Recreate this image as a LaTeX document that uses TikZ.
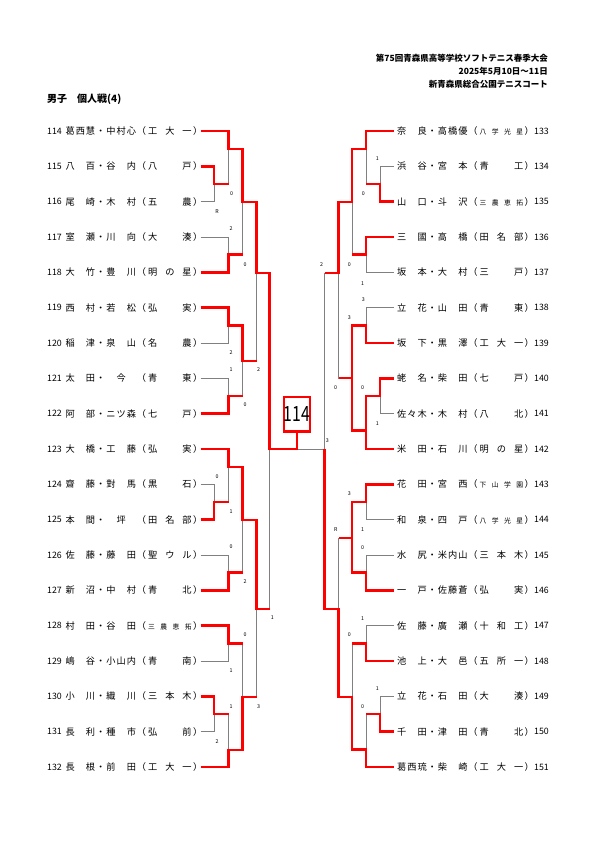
\documentclass[tikz,border=0pt]{standalone}
\usepackage{fontspec}
\setmainfont{Noto Sans CJK JP}
\newcommand\tinysch{\fontsize{6.8}{7}\selectfont}
\newcommand\slots[7]{\makebox[10.2pt]{#1}\makebox[10.2pt]{#2}\makebox[10.2pt]{#3}\makebox[10.2pt]{#4}\makebox[10.2pt]{#5}\makebox[10.2pt]{#6}\makebox[10.2pt]{#7}}
\newcommand\fullname[2]{\expandafter\slots#1\makebox[10.2pt]{（}\hspace{1.5pt}\makebox[43.5pt][s]{#2}\hspace{1pt}\makebox[10.2pt]{）}}

\begin{document}
\begin{tikzpicture}[x=1pt, y=-1pt,
  thinline/.style={draw=gray, line width=0.6pt},
  winline/.style={draw=red, line width=2.6pt},
  score/.style={font=\fontsize{5.3}{5.3}\selectfont, inner sep=0pt},
  num/.style={anchor=west, inner sep=0pt, font=\fontsize{8.8}{10}\selectfont},
  entry/.style={anchor=west, inner sep=0pt, font=\fontsize{9.2}{10}\selectfont}]
  \path[fill=white, use as bounding box] (0,0) rectangle (595,842);

  % heading
  \node[anchor=north east, align=right, inner sep=0pt, font=\bfseries\fontsize{8.5}{13}\selectfont] (meet) at (548,53.5) {第75回青森県高等学校ソフトテニス春季大会\\2025年5月10日～11日\\新青森県総合公園テニスコート};
  \node[anchor=west, inner sep=0pt, font=\bfseries\fontsize{10}{12}\selectfont] (title) at (47,99.5) {男子　個人戦(4)};

  % players, left half
  \foreach \n/\nm/\sc [count=\i from 0] in {
    114/葛西慧・中村心/工\hfill 大\hfill 一,
    115/八　百・谷　内/八\hfill 戸,
    116/尾　崎・木　村/五\hfill 農,
    117/室　瀬・川　向/大\hfill 湊,
    118/大　竹・豊　川/明\hfill の\hfill 星,
    119/西　村・若　松/弘\hfill 実,
    120/稲　津・泉　山/名\hfill 農,
    121/太　田・　今　/青\hfill 東,
    122/阿　部・ニツ森/七\hfill 戸,
    123/大　橋・工　藤/弘\hfill 実,
    124/齋　藤・對　馬/黒\hfill 石,
    125/本　間・　坪　/田\hfill 名\hfill 部,
    126/佐　藤・藤　田/聖\hfill ウ\hfill ル,
    127/新　沼・中　村/青\hfill 北,
    128/村　田・谷　田/\tinysch 三\hfill 農\hfill 恵\hfill 拓,
    129/嶋　谷・小山内/青\hfill 南,
    130/小　川・織　川/三\hfill 本\hfill 木,
    131/長　利・種　市/弘\hfill 前,
    132/長　根・前　田/工\hfill 大\hfill 一} {
    \coordinate (p\n) at (200.5,131+35.33*\i);
    \node[num] (n\n) at (47,131+35.33*\i) {\n};
    \node[entry] (t\n) at (64.9,131+35.33*\i) {\fullname{\nm}{\sc}};
  }

  % players, right half
  \foreach \n/\nm/\sc [count=\i from 0] in {
    133/奈　良・高橋優/\tinysch 八\hfill 学\hfill 光\hfill 星,
    134/浜　谷・宮　本/青\hfill 工,
    135/山　口・斗　沢/\tinysch 三\hfill 農\hfill 恵\hfill 拓,
    136/三　國・高　橋/田\hfill 名\hfill 部,
    137/坂　本・大　村/三\hfill 戸,
    138/立　花・山　田/青\hfill 東,
    139/坂　下・黒　澤/工\hfill 大\hfill 一,
    140/蛯　名・柴　田/七\hfill 戸,
    141/佐々木・木　村/八\hfill 北,
    142/米　田・石　川/明\hfill の\hfill 星,
    143/花　田・宮　西/\tinysch 下\hfill 山\hfill 学\hfill 園,
    144/和　泉・四　戸/\tinysch 八\hfill 学\hfill 光\hfill 星,
    145/水　尻・米内山/三\hfill 本\hfill 木,
    146/一　戸・佐藤蒼/弘\hfill 実,
    147/佐　藤・廣　瀬/十\hfill 和\hfill 工,
    148/池　上・大　邑/五\hfill 所\hfill 一,
    149/立　花・石　田/大\hfill 湊,
    150/千　田・津　田/青\hfill 北,
    151/葛西琉・柴　崎/工\hfill 大\hfill 一} {
    \coordinate (p\n) at (393.5,131+35.33*\i);
    \node[entry] (t\n) at (396.4,131+35.33*\i) {\fullname{\nm}{\sc}};
    \node[num] (n\n) at (534,131+35.33*\i) {\n};
  }

  % match points
  \coordinate (lA) at (214,184);    \coordinate (lB) at (228.5,149);
  \coordinate (lC) at (228.5,254.7);\coordinate (lD) at (242.5,202);
  \coordinate (lE) at (228.5,325.3);\coordinate (lF) at (228.5,396);
  \coordinate (lG) at (242.5,361);  \coordinate (lH) at (256.5,273);
  \coordinate (lI) at (214,502);    \coordinate (lJ) at (228.5,467);
  \coordinate (lK) at (228.5,572.6);\coordinate (lL) at (242.5,520);
  \coordinate (lM) at (228.5,643.3);\coordinate (lN) at (214,714);
  \coordinate (lO) at (228.5,750);  \coordinate (lP) at (242.5,697);
  \coordinate (lQ) at (256.5,609);  \coordinate (lR) at (269.5,449);
  \coordinate (rA) at (380,184);    \coordinate (rB) at (366,149);
  \coordinate (rC) at (366,254.7);  \coordinate (rD) at (352,202);
  \coordinate (rE) at (366,325.3);  \coordinate (rF) at (380,396);
  \coordinate (rG) at (366,430.5);  \coordinate (rH) at (352,378);
  \coordinate (rI) at (338.5,273);  \coordinate (rJ) at (366,502);
  \coordinate (rK) at (366,572.6);  \coordinate (rL) at (352,538);
  \coordinate (rM) at (366,643.3);  \coordinate (rN) at (380,714);
  \coordinate (rO) at (366,749.5);  \coordinate (rP) at (352,697);
  \coordinate (rQ) at (338.5,609);  \coordinate (rR) at (324.5,449);
  \coordinate (fin) at (297,449);

  % bracket
  \foreach \a/\b in {p115/lA, p116/lA, p114/lB, lA/lB, p117/lC, p118/lC, lB/lD, lC/lD,
    p119/lE, p120/lE, p121/lF, p122/lF, lE/lG, lF/lG, lD/lH, lG/lH,
    p124/lI, p125/lI, p123/lJ, lI/lJ, p126/lK, p127/lK, lJ/lL, lK/lL,
    p128/lM, p129/lM, p130/lN, p131/lN, lN/lO, p132/lO, lM/lP, lO/lP,
    lL/lQ, lP/lQ, lH/lR, lQ/lR, lR/fin,
    p134/rA, p135/rA, p133/rB, rA/rB, p136/rC, p137/rC, rB/rD, rC/rD,
    p138/rE, p139/rE, p140/rF, p141/rF, rF/rG, p142/rG, rE/rH, rG/rH,
    rD/rI, rH/rI, p143/rJ, p144/rJ, p145/rK, p146/rK, rJ/rL, rK/rL,
    p147/rM, p148/rM, p149/rN, p150/rN, rN/rO, p151/rO, rM/rP, rO/rP,
    rL/rQ, rP/rQ, rI/rR, rQ/rR, rR/fin}
    \draw[thinline] (\a) -| (\b);

  % winners
  \draw[winline] (p115) -| (lA) -- (lA -| lB);
  \draw[winline] (p118) -| (lC) -- (lC -| lD);
  \draw[winline] (p119) -| (lE) -| (lG) -- (lG -| lH);
  \draw[winline] (p122) -| (lF) -- (lF -| lG);
  \draw[winline] (p123) -| (lJ) -| (lL) -| (lQ) -- (lQ -| lR);
  \draw[winline] (p125) -| (lI) -- (lI -| lJ);
  \draw[winline] (p127) -| (lK) -- (lK -| lL);
  \draw[winline] (p128) -| (lM) -- (lM -| lP);
  \draw[winline] (p130) -| (lN) -- (lN -| lO);
  \draw[winline] (p132) -| (lO) -| (lP) -- (lP -| lQ);
  \draw[winline] (p133) -| (rB) -| (rD) -| (rI) -- (rI -| rR);
  \draw[winline] (p135) -| (rA) -- (rA -| rB);
  \draw[winline] (p136) -| (rC) -- (rC -| rD);
  \draw[winline] (p139) -| (rE) -| (rH);
  \draw[winline] (p140) -| (rF) -| (rG);
  \draw[winline] (p142) -| (rG) -| (rH) -- (rH -| rI);
  \draw[winline] (p143) -| (rJ) -| (rL);
  \draw[winline] (p146) -| (rK) -| (rL) -- (rL -| rQ);
  \draw[winline] (p148) -| (rM) -- (rM -| rP);
  \draw[winline] (p150) -| (rN) -- (rN -| rO);
  \draw[winline] (p151) -| (rO) -| (rP) -| (rQ) -| (rR);

  \node[draw=red, line width=2.6pt, fill=white, minimum width=26pt, minimum height=34.5pt, inner sep=0pt] (cup) at (297,414.2) {\fontsize{21}{21}\selectfont\scalebox{0.75}[1]{114}};
  \draw[winline] (p114) -| (lB) -| (lD) -| (lH) -| (lR) -- (fin) -- (cup.south);

  % scores
  \foreach \s/\x/\y/\t in {lA/217/212/R, lB/231.5/194/0, lC/231/229/2, lD/245/265/0,
    lE/231/352.7/2, lF/231/370/1, lG/245/405/0, lH/258.5/370/2,
    lI/217/476.7/0, lJ/231/512/1, lK/231/547/0, lL/245/582/2,
    lM/231/670.7/1, lN/217/741.7/2, lO/231/706.7/1, lP/245/635/0,
    lQ/258.5/706.7/3, lR/272.3/617.7/1,
    rA/377.3/158.3/1, rB/363.3/194/0, rC/362.7/283.3/1, rD/349.3/265/0,
    rE/363.3/300/3, rF/377.3/423.3/1, rG/362.7/387.3/0, rH/349.3/317.7/3,
    rI/335.7/387.7/0, rJ/362.7/529.3/1, rK/362.7/547.3/0, rL/349.3/494/3,
    rM/362.7/618.3/1, rN/377.3/689/1, rO/362.7/706.7/0, rP/349.3/635/0,
    rQ/335.7/529.3/R, rR/321.7/265/2, fin/327.3/441/3}
    \node[score] (s\s) at (\x,\y) {\t};
\end{tikzpicture}
\end{document}
